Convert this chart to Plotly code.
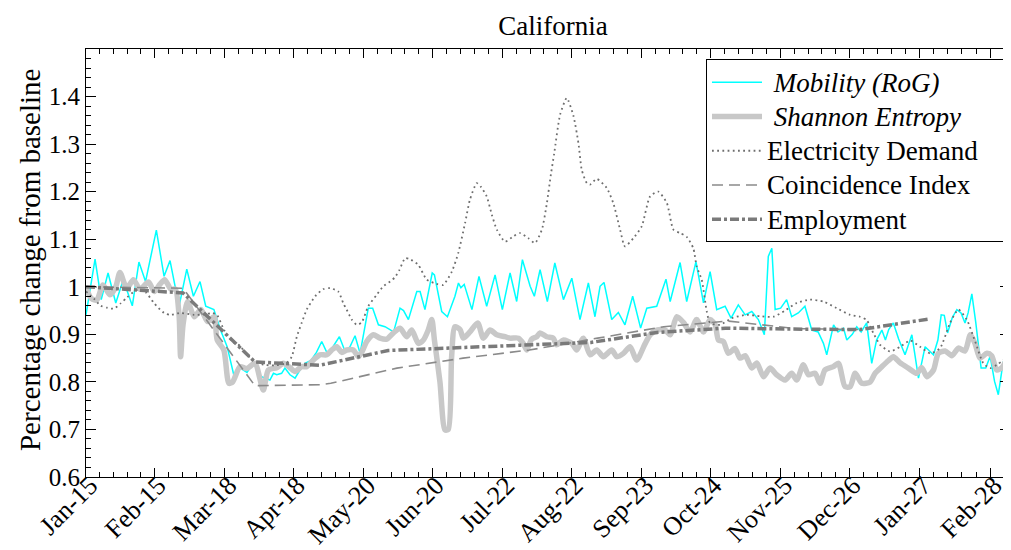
import pandas as pd
import plotly.graph_objects as go

# ---------------- data (days since 2020-01-15, value) ----------------
BASE = pd.Timestamp("2020-01-15")

mob_day = [0, 4.1, 6.9, 10, 13.5, 16.9, 21, 24, 27, 30, 31.9, 35.4, 38.1, 42.2, 45.7, 48.7, 51.7, 54.3,
           58, 61, 64, 67, 70, 73, 76, 79, 83.4, 85, 86.5, 88.7, 90.2, 92.5, 94.8, 97, 99.3, 102, 104.5,
           106.9, 109.4, 112, 114.9, 117.5, 119.7, 122, 124.3, 128, 130, 132.6, 135.6, 139.5, 142.4,
           144, 146.2, 150, 151.5, 153.7, 157, 158, 161.3, 163.9, 167.3, 168.9, 170, 171.5, 175, 178.2,
           181.7, 185.5, 188.8, 192.3, 195.3, 197.9, 201.4, 203.3, 205.9, 209.2, 212.6, 216.5, 220.3,
           224, 227.8, 230.8, 233.1, 234.9, 238.4, 241.4, 244.4, 247.9, 251.5, 254.3, 258.8, 263, 264.9,
           269.4, 272.4, 276.6, 280, 283, 286, 289.8, 292.5, 295.8, 298.9, 301.9, 304.9, 307.6, 309.4,
           311, 312.5, 315, 317.7, 320, 323, 326, 329.1, 332, 334.4, 335.9, 339, 341, 343.5, 345, 347.5,
           349.5, 351.5, 354, 356.3, 358.5, 360.9, 362.5, 364, 366.1, 368.5, 371.4, 374.5, 377.5, 380.5,
           382.5, 384.3, 386.3, 387.8, 389.2, 390.7, 392.8, 394.9, 396.8, 398.6, 400, 401.7, 403.5,
           405.9, 408, 410, 412, 413.7, 415.5, 417.5, 419]
mob_val = [0.941, 1.058, 0.973, 1.029, 0.966, 1.015, 0.960, 1.052, 1.011, 1.081, 1.119, 1.022, 1.055,
           0.959, 1.037, 0.980, 1.011, 0.959, 0.952, 0.909, 0.874, 0.815, 0.829, 0.820, 0.840, 0.812,
           0.804, 0.818, 0.815, 0.818, 0.829, 0.815, 0.808, 0.825, 0.839, 0.845, 0.862, 0.885, 0.860,
           0.874, 0.895, 0.864, 0.874, 0.897, 0.860, 0.955, 0.955, 0.920, 0.916, 0.905, 0.955, 0.950,
           0.931, 0.990, 0.990, 0.952, 1.029, 1.025, 0.948, 0.937, 0.980, 1.008, 0.998, 1.005, 0.952,
           1.022, 0.959, 1.025, 0.952, 1.029, 0.969, 1.057, 1.001, 0.980, 1.036, 0.969, 1.050, 0.973,
           1.018, 0.931, 1.008, 0.937, 1.001, 1.009, 0.931, 0.946, 0.920, 0.980, 0.913, 0.955, 0.959,
           1.016, 0.969, 1.051, 0.969, 1.053, 0.966, 1.032, 0.952, 0.959, 0.934, 0.962, 0.941, 0.948,
           0.931, 0.899, 1.064, 1.081, 0.952, 0.955, 0.973, 0.937, 0.945, 0.959, 0.909, 0.905, 0.881,
           0.857, 0.920, 0.905, 0.913, 0.888, 0.900, 0.916, 0.905, 0.924, 0.839, 0.888, 0.909, 0.888,
           0.910, 0.924, 0.890, 0.857, 0.899, 0.808, 0.874, 0.865, 0.857, 0.888, 0.941, 0.940, 0.903,
           0.935, 0.952, 0.945, 0.924, 0.945, 0.985, 0.924, 0.829, 0.829, 0.854, 0.801, 0.773, 0.830,
           0.874, 0.870]

ent_day = [0, 2.5, 4.9, 7.7, 10.9, 13.5, 15.4, 18.5, 21.5, 24.5, 28.3, 31, 33.5, 35.7, 38.5, 40.5, 42.2,
           42.9, 44, 46.1, 49.1, 52.1, 55.1, 58.1, 59.5, 62.5, 64.8, 66.5, 69.8, 72.9, 76.6, 80.4, 82.7,
           86.5, 89.5, 92.5, 94.8, 97.8, 100.1, 103.1, 106.1, 109.2, 111.4, 113.7, 116, 118.2, 121.2,
           123.5, 125, 127.3, 130.3, 133.3, 136.4, 139.4, 142.4, 145.4, 147.7, 150.7, 153, 155.2, 156.8,
           158, 160.5, 162.8, 164.3, 165.8, 167.3, 169.6, 171.1, 174.1, 177.6, 180.2, 183.2, 186.3, 190,
           192.3, 196.1, 198.4, 199.9, 202.1, 204.4, 205.9, 208.9, 211.9, 213.4, 216.5, 220.3, 222.5,
           225.5, 228.6, 231.6, 234.6, 238.4, 240.7, 243.7, 246.7, 249.7, 253.5, 255.8, 258.8, 262.6,
           264.9, 267.9, 270.9, 273.9, 276.9, 280, 283, 285.3, 286.8, 289, 291.3, 294.3, 296.6, 298.9,
           301.9, 304.2, 307.2, 310.2, 313.2, 317, 320, 322.3, 325.3, 327.6, 330.6, 332.9, 335.1, 338.9,
           341.2, 344.2, 346.5, 348.8, 351.8, 355.6, 357.8, 360.9, 363.9, 366.1, 369.2, 372.9, 376.7,
           379, 381.3, 384.3, 386.5, 389.6, 392.6, 395.6, 398.6, 401, 403.2, 405.4, 408.5, 410.7, 413,
           415.3, 417.5, 419]
ent_val = [0.998, 0.975, 0.972, 1.004, 0.983, 1.000, 1.030, 0.997, 1.015, 0.995, 1.010, 0.990, 1.005,
           1.015, 0.995, 0.995, 0.940, 0.853, 0.920, 0.969, 0.937, 0.952, 0.927, 0.937, 0.888, 0.867,
           0.797, 0.800, 0.832, 0.828, 0.839, 0.783, 0.825, 0.830, 0.839, 0.830, 0.822, 0.832, 0.832,
           0.846, 0.857, 0.857, 0.867, 0.874, 0.862, 0.867, 0.867, 0.853, 0.862, 0.885, 0.899, 0.892,
           0.890, 0.903, 0.913, 0.895, 0.909, 0.881, 0.888, 0.909, 0.931, 0.888, 0.800, 0.699, 0.700,
           0.853, 0.916, 0.910, 0.892, 0.905, 0.924, 0.892, 0.909, 0.899, 0.895, 0.892, 0.892, 0.880,
           0.867, 0.890, 0.895, 0.903, 0.895, 0.892, 0.878, 0.888, 0.881, 0.867, 0.892, 0.857, 0.867,
           0.853, 0.867, 0.853, 0.860, 0.874, 0.846, 0.880, 0.899, 0.909, 0.909, 0.899, 0.937, 0.925,
           0.905, 0.931, 0.905, 0.931, 0.920, 0.888, 0.885, 0.860, 0.870, 0.850, 0.855, 0.829, 0.840,
           0.811, 0.829, 0.815, 0.804, 0.818, 0.804, 0.836, 0.815, 0.818, 0.797, 0.825, 0.832, 0.839,
           0.790, 0.790, 0.818, 0.797, 0.800, 0.818, 0.832, 0.845, 0.853, 0.840, 0.829, 0.818, 0.830,
           0.811, 0.825, 0.860, 0.865, 0.855, 0.871, 0.865, 0.899, 0.880, 0.850, 0.860, 0.855, 0.825,
           0.830, 0.850, 0.910]

ele_day = [0, 3.6, 6.7, 9.5, 12.7, 15.7, 18.7, 21.8, 24, 27.2, 30.8, 35.4, 38.4, 42.6, 49, 54, 57.3,
           59.5, 62.6, 66.3, 69.8, 72.9, 75.9, 80.4, 85.7, 91, 93.3, 95.6, 97.8, 100.1, 103.9, 107.6,
           110.7, 114.4, 116.7, 118.2, 120.5, 122.8, 125, 128, 131.8, 134.8, 137.9, 140.1, 142.1, 144.7,
           146.9, 150.7, 154.5, 159, 162, 165.9, 168.8, 171.9, 174.1, 177.2, 179.1, 181.7, 184, 186.3,
           190, 193.8, 196.8, 200.6, 203.6, 206.7, 208.9, 210.8, 212.3, 215, 218, 221, 223.3, 224.8,
           227.1, 228.6, 231.6, 236.1, 239.1, 242.2, 244.4, 248.2, 252, 255.8, 259.5, 263.4, 266.4,
           269.4, 272.4, 275.4, 276.9, 279.2, 281.5, 283, 287.5, 292.8, 299.6, 305.7, 311.7, 317, 322.3,
           328.3, 334.4, 340.4, 346.5, 351, 354, 357, 360.1, 364.6, 369.2, 373.7, 378.2, 382.8, 387.3,
           391.8, 395.6, 399.4, 403.2, 406.9, 410, 413, 416, 419]
ele_val = [0.990, 0.975, 0.960, 0.956, 0.954, 0.965, 0.978, 0.990, 0.994, 0.988, 0.966, 0.945, 0.941,
           0.945, 0.941, 0.942, 0.945, 0.940, 0.909, 0.885, 0.876, 0.857, 0.846, 0.836, 0.835, 0.840,
           0.853, 0.895, 0.924, 0.952, 0.980, 0.995, 0.997, 0.990, 0.965, 0.952, 0.931, 0.920, 0.925,
           0.959, 0.983, 1.001, 1.011, 1.020, 1.035, 1.060, 1.058, 1.046, 1.015, 1.006, 1.004, 1.032,
           1.071, 1.134, 1.183, 1.218, 1.210, 1.190, 1.152, 1.120, 1.095, 1.106, 1.113, 1.102, 1.092,
           1.120, 1.173, 1.236, 1.280, 1.362, 1.397, 1.360, 1.302, 1.246, 1.218, 1.215, 1.227, 1.208,
           1.176, 1.120, 1.085, 1.102, 1.127, 1.190, 1.200, 1.176, 1.120, 1.113, 1.105, 1.081, 1.043,
           1.015, 0.948, 0.924, 0.920, 0.934, 0.941, 0.938, 0.937, 0.950, 0.966, 0.973, 0.969, 0.955,
           0.941, 0.937, 0.930, 0.903, 0.878, 0.864, 0.874, 0.887, 0.874, 0.860, 0.871, 0.924, 0.952,
           0.931, 0.885, 0.839, 0.829, 0.836, 0.846, 0.860]

coi_day = [0, 44, 76.6, 106, 111, 141, 171, 201, 232, 262, 291, 322, 352]
coi_val = [1.000, 0.997, 0.792, 0.794, 0.797, 0.829, 0.850, 0.867, 0.892, 0.916, 0.928, 0.912, 0.910]

emp_day = [0, 44, 76.6, 106, 137, 167, 198, 229, 259, 290, 320, 351, 382]
emp_val = [1.000, 0.987, 0.842, 0.835, 0.866, 0.871, 0.877, 0.883, 0.904, 0.913, 0.911, 0.910, 0.932]

tick_dates = ["2020-01-15", "2020-02-15", "2020-03-18", "2020-04-18", "2020-05-20", "2020-06-20",
              "2020-07-22", "2020-08-22", "2020-09-23", "2020-10-24", "2020-11-25", "2020-12-26",
              "2021-01-27", "2021-02-28"]
tick_text = ["Jan-15", "Feb-15", "Mar-18", "Apr-18", "May-20", "Jun-20", "Jul-22", "Aug-22",
             "Sep-23", "Oct-24", "Nov-25", "Dec-26", "Jan-27", "Feb-28"]
y_ticks = [0.6, 0.7, 0.8, 0.9, 1.0, 1.1, 1.2, 1.3, 1.4]
y_text = ["0.6", "0.7", "0.8", "0.9", "1", "1.1", "1.2", "1.3", "1.4"]


def to_dates(days):
    return [BASE + pd.Timedelta(days=float(d)) for d in days]


# minor ticks: 5 subdivisions of each major interval
major = [pd.Timestamp(d) for d in tick_dates]
minor = []
for a, b in zip(major[:-1], major[1:]):
    step = (b - a) / 5
    minor += [a + step * k for k in range(1, 5)]
last_step = (major[-1] - major[-2]) / 5
minor += [major[-1] + last_step * k for k in range(1, 3)]

FONT = "'Liberation Serif', 'Times New Roman', serif"
NB = "\u00a0"


def leg(txt, italic=False, pad_after=0):
    body = f"<i>{txt}</i>" if italic else txt
    lead = NB if italic else ""
    return f'<span style="font-size:27px">{lead}{body}{NB * pad_after}</span>'


# page body has an 8px margin: the figure is sized to the remaining window
W, H = 1003, 542

fig = go.Figure()
fig.add_trace(go.Scatter(x=to_dates(mob_day), y=mob_val, mode="lines", name=leg("Mobility (RoG)", True),
                         line=dict(color="#00FFFF", width=1.5)))
fig.add_trace(go.Scatter(x=to_dates(ent_day), y=ent_val, mode="lines", name=leg("Shannon Entropy", True),
                         line=dict(color="#C8C8C8", width=5.5, shape="spline", smoothing=0.7)))
fig.add_trace(go.Scatter(x=to_dates(ele_day), y=ele_val, mode="lines", name=leg("Electricity Demand", pad_after=3),
                         line=dict(color="#6E6E6E", width=1.8, dash="1.8px,3.4px", shape="spline", smoothing=0.6)))
fig.add_trace(go.Scatter(x=to_dates(coi_day), y=coi_val, mode="lines", name=leg("Coincidence Index"),
                         line=dict(color="#8A8A8A", width=1.6, dash="11px,6px")))
fig.add_trace(go.Scatter(x=to_dates(emp_day), y=emp_val, mode="lines", name=leg("Employment"),
                         line=dict(color="#7A7A7A", width=3.5, dash="9px,3px,3px,3px")))

fig.update_layout(
    width=W, height=H,
    margin=dict(l=78, r=1, t=41, b=73),
    paper_bgcolor="white", plot_bgcolor="white",
    font=dict(family=FONT, color="black", size=25),
    title=dict(text="California", x=545 / W, xanchor="center", y=1 - 18 / H, yanchor="middle",
               font=dict(family=FONT, size=27, color="black")),
    showlegend=True,
    legend=dict(x=0.9935, y=0.976, xanchor="right", yanchor="top", bgcolor="white",
                bordercolor="black", borderwidth=1, font=dict(family=FONT, size=24, color="black"),
                tracegroupgap=0, itemwidth=50),
)

fig.update_xaxes(
    type="date", range=[BASE, BASE + pd.Timedelta(days=419)],
    tickmode="array", tickvals=major, ticktext=tick_text, tickangle=-45,
    ticks="inside", ticklen=9, tickwidth=1, tickcolor="black",
    showline=True, linecolor="black", linewidth=1, mirror="allticks",
    showgrid=False, zeroline=False, automargin=False,
    ticklabelstandoff=-18, ticklabelshift=4, ticklabeloverflow="allow",
    tickfont=dict(family=FONT, size=26, color="black"),
    minor=dict(tickmode="array", tickvals=minor, ticks="inside", ticklen=5, tickwidth=1,
               tickcolor="black", showgrid=False),
)
fig.update_yaxes(
    range=[0.6, 1.5], tickmode="array", tickvals=y_ticks, ticktext=y_text,
    ticks="inside", ticklen=10, tickwidth=1, tickcolor="black",
    showline=True, linecolor="black", linewidth=1, mirror="allticks",
    showgrid=False, zeroline=False, automargin=False,
    tickfont=dict(family=FONT, size=25, color="black"),
    minor=dict(dtick=0.02, tick0=0.6, ticks="inside", ticklen=5, tickwidth=1,
               tickcolor="black", showgrid=False),
)

fig.add_annotation(text="Percentage change from baseline", xref="paper", yref="paper",
                   x=(30 - 86) / 924, y=0.507, textangle=-90, showarrow=False,
                   xanchor="center", yanchor="middle",
                   font=dict(family=FONT, size=29, color="black"))

fig.write_html("out.html")
